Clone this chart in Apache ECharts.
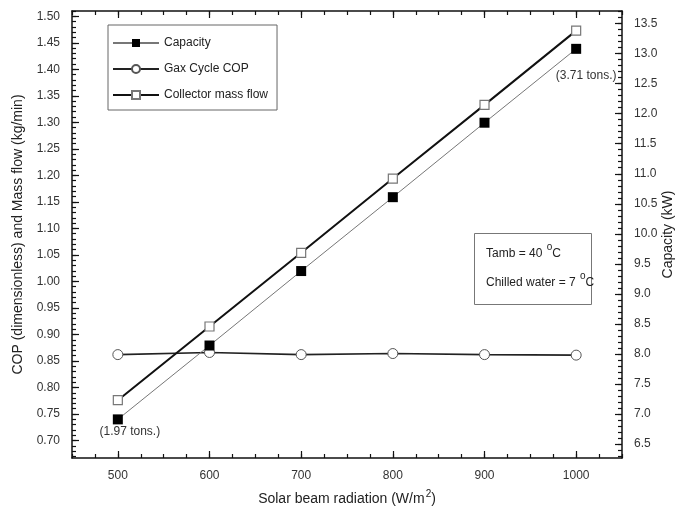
<!DOCTYPE html>
<html>
<head>
<meta charset="utf-8">
<script src="https://cdn.jsdelivr.net/npm/echarts@6/dist/echarts.min.js"></script>
<style>
  html, body { margin: 0; padding: 0; background: #fff; }
  #chart { width: 678px; height: 510px; }
</style>
</head>
<body>
<div id="chart"></div>
<script>
// values
const radiation = [500, 600, 700, 800, 900, 1000];
const capacityKW = [6.91, 8.14, 9.38, 10.61, 11.85, 13.08];
const gaxCOP = [0.862, 0.866, 0.862, 0.864, 0.862, 0.861];
const massFlow = [0.776, 0.915, 1.054, 1.194, 1.333, 1.473];
const tonsNotes = ['(1.97 tons.)', '', '', '', '', '(3.71 tons.)'];

// tick labels
const xTicks = [500, 600, 700, 800, 900, 1000];
const leftTicks = [0.70, 0.75, 0.80, 0.85, 0.90, 0.95, 1.00, 1.05, 1.10, 1.15, 1.20, 1.25, 1.30, 1.35, 1.40, 1.45, 1.50];
const rightTicks = [6.5, 7.0, 7.5, 8.0, 8.5, 9.0, 9.5, 10.0, 10.5, 11.0, 11.5, 12.0, 12.5, 13.0, 13.5];

const FONT = '"Liberation Sans", Arial, sans-serif';

// minor tick positions
const leftMinor = [];
for (let v = 67; v <= 151; v++) leftMinor.push(v / 100);
const rightMinor = [];
for (let v = 63; v <= 137; v++) rightMinor.push(v / 10);

const X_MIN = 450, X_MAX = 1050;
const L_MIN = 0.667, L_MAX = 1.51;
const R_MIN = 6.267, R_MAX = 13.71;

const lineAxis = { show: true, lineStyle: { color: '#111', width: 1.5 } };
const noLine = { show: false };

function xAx(pos, major, withLabels) {
  const ax = {
    type: 'value', position: pos, min: X_MIN, max: X_MAX,
    axisLine: major ? lineAxis : noLine,
    splitLine: { show: false },
    axisTick: { show: true, inside: true, length: major ? 7 : 4, lineStyle: { color: '#111', width: 1.2 } },
    axisLabel: { show: false }
  };
  if (major) {
    ax.axisTick.customValues = xTicks;
  } else {
    ax.interval = 25;
  }
  if (withLabels) {
    ax.axisLabel = { show: true, customValues: xTicks, margin: 12, color: '#333', fontSize: 12, fontFamily: FONT,
      formatter: v => String(v) };
    ax.name = 'Solar beam radiation (W/m{sup|2})';
    ax.nameLocation = 'middle';
    ax.nameGap = 31;
    ax.nameMoveOverlap = false;
    ax.nameTextStyle = {
      color: '#222', fontSize: 14, fontFamily: FONT,
      rich: { sup: { fontSize: 10, fontFamily: FONT, color: '#222', padding: [0, 0, 10, 1] } }
    };
  }
  return ax;
}

function yAx(pos, min, max, major, minor, labelVals, digits, name, gap) {
  const ax = {
    type: 'value', position: pos, min: min, max: max,
    axisLine: labelVals ? lineAxis : noLine,
    splitLine: { show: false },
    axisTick: { show: true, inside: true, length: labelVals ? 7 : 4, customValues: labelVals ? major : minor,
      lineStyle: { color: '#111', width: 1.2 } },
    axisLabel: { show: false }
  };
  if (labelVals) {
    ax.axisLabel = { show: true, customValues: labelVals, margin: 12, color: '#333', fontSize: 12, fontFamily: FONT,
      formatter: v => Number(v).toFixed(digits) };
    ax.name = name;
    ax.nameLocation = 'middle';
    ax.nameGap = gap;
    ax.nameMoveOverlap = false;
    ax.nameTextStyle = { color: '#222', fontSize: 14, fontFamily: FONT };
  }
  return ax;
}

const chart = echarts.init(document.getElementById('chart'), null, { renderer: 'canvas' });

chart.setOption({
  backgroundColor: '#fff',
  animation: false,
  grid: { left: 72, right: 56, top: 11, bottom: 52, containLabel: false, outerBoundsMode: 'none' },
  xAxis: [
    xAx('bottom', true, true),
    xAx('bottom', false, false),
    xAx('top', true, false),
    xAx('top', false, false)
  ],
  yAxis: [
    yAx('left', L_MIN, L_MAX, leftTicks, null, leftTicks, 2, 'COP (dimensionless) and Mass flow (kg/min)', 47),
    yAx('left', L_MIN, L_MAX, null, leftMinor, null),
    yAx('right', R_MIN, R_MAX, rightTicks, null, rightTicks, 1, 'Capacity (kW)', 39),
    yAx('right', R_MIN, R_MAX, null, rightMinor, null)
  ],
  legend: {
    orient: 'vertical',
    left: 108, top: 25,
    padding: [12, 9, 9, 4],
    itemGap: 14,
    itemWidth: 46, itemHeight: 10,
    borderColor: '#666', borderWidth: 1,
    textStyle: { color: '#222', fontSize: 12, fontFamily: FONT },
    data: ['Capacity', 'Gax Cycle COP', 'Collector mass flow']
  },
  series: [
    {
      name: 'Capacity', type: 'line', xAxisIndex: 0, yAxisIndex: 2,
      symbol: 'rect', symbolSize: 10,
      lineStyle: { color: '#777', width: 1 },
      itemStyle: { color: '#000', borderColor: '#000', borderWidth: 0 },
      z: 3,
      data: radiation.map((x, i) => ({
        value: [x, capacityKW[i]],
        label: tonsNotes[i] ? {
          show: true, formatter: tonsNotes[i], position: 'bottom',
          distance: 2, offset: i === 0 ? [12, -1] : [10, 14],
          color: '#333', fontSize: 12, fontFamily: FONT
        } : { show: false }
      }))
    },
    {
      name: 'Gax Cycle COP', type: 'line', xAxisIndex: 0, yAxisIndex: 0,
      symbol: 'circle', symbolSize: 10,
      lineStyle: { color: '#222', width: 1.6 },
      itemStyle: { color: '#fff', borderColor: '#555', borderWidth: 1 },
      z: 2,
      data: radiation.map((x, i) => [x, gaxCOP[i]])
    },
    {
      name: 'Collector mass flow', type: 'line', xAxisIndex: 0, yAxisIndex: 0,
      symbol: 'rect', symbolSize: 9,
      lineStyle: { color: '#111', width: 2 },
      itemStyle: { color: '#fff', borderColor: '#777', borderWidth: 1.2 },
      z: 2,
      data: radiation.map((x, i) => [x, massFlow[i]])
    }
  ],
  graphic: [
    {
      type: 'rect', left: 474, top: 233, z: 10,
      shape: { width: 117, height: 71 },
      style: { fill: '#fff', stroke: '#777', lineWidth: 1 }
    },
    {
      type: 'text', left: 486, top: 242, z: 11,
      style: {
        text: 'Tamb = 40 {sup|o}C',
        fill: '#222', fontSize: 12, fontFamily: FONT,
        rich: { sup: { fontSize: 10, fontFamily: FONT, fill: '#222', padding: [0, 0, 13, 1] } }
      }
    },
    {
      type: 'text', left: 486, top: 271, z: 11,
      style: {
        text: 'Chilled water = 7 {sup|o}C',
        fill: '#222', fontSize: 12, fontFamily: FONT,
        rich: { sup: { fontSize: 10, fontFamily: FONT, fill: '#222', padding: [0, 0, 13, 1] } }
      }
    }
  ]
});
</script>
</body>
</html>
